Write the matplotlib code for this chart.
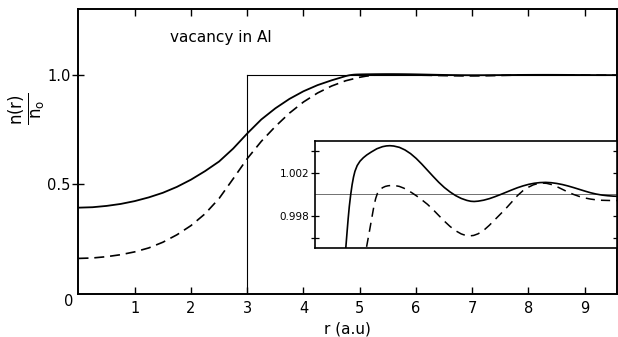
import numpy as np
import matplotlib
matplotlib.use("Agg")
import matplotlib.pyplot as plt

# 实线：n(r)/n0
r_solid = [0.0, 0.25, 0.5, 0.75, 1.0, 1.25, 1.5, 1.75, 2.0, 2.25, 2.5, 2.75,
           3.0, 3.25, 3.5, 3.75, 4.0, 4.25, 4.5, 4.65, 4.7,
           4.746, 4.77, 4.79, 4.81, 4.835, 4.86, 4.885, 4.91, 4.95, 5.0,
           5.06, 5.12, 5.2, 5.3, 5.4, 5.47, 5.53, 5.6, 5.7, 5.8, 5.9, 6.0,
           6.1, 6.2, 6.3, 6.4, 6.5, 6.6, 6.7, 6.8, 6.9, 6.97, 7.03, 7.1,
           7.2, 7.3, 7.4, 7.5, 7.6, 7.7, 7.8, 7.9, 8.0, 8.1, 8.2, 8.3, 8.4,
           8.5, 8.6, 8.7, 8.8, 8.9, 9.0, 9.1, 9.2, 9.3, 9.4, 9.5, 9.6]
n_solid = [0.394, 0.396, 0.402, 0.411, 0.424, 0.441, 0.462, 0.489, 0.522,
           0.561, 0.605, 0.664, 0.733, 0.797, 0.848, 0.891, 0.926, 0.954,
           0.976, 0.9875, 0.9915,
           0.99500, 0.99655, 0.99780, 0.99890, 1.00000, 1.00090, 1.00160,
           1.00212, 1.00265, 1.00305, 1.00337, 1.00362, 1.00389, 1.00419,
           1.00438, 1.00445, 1.00447, 1.00444, 1.00432, 1.00408, 1.00374,
           1.00330, 1.00278, 1.00222, 1.00166, 1.00112, 1.00064, 1.00024,
           0.99990, 0.99964, 0.99946, 0.99938, 0.99936, 0.99939, 0.99948,
           0.99962, 0.99980, 1.00000, 1.00021, 1.00042, 1.00062, 1.00079,
           1.00093, 1.00103, 1.00109, 1.00111, 1.00108, 1.00101, 1.00091,
           1.00078, 1.00063, 1.00047, 1.00031, 1.00016, 1.00004, 0.99995,
           0.99989, 0.99985, 0.99983]

# 虚线
r_dash = [0.0, 0.25, 0.5, 0.75, 1.0, 1.25, 1.5, 1.75, 2.0, 2.25, 2.5, 2.75,
          3.0, 3.25, 3.5, 3.75, 4.0, 4.25, 4.5, 4.75, 5.0,
          5.11, 5.16, 5.21, 5.25, 5.28, 5.31, 5.35, 5.40, 5.45, 5.5, 5.56,
          5.62, 5.7, 5.78, 5.86, 5.94, 6.02, 6.1, 6.2, 6.3, 6.4, 6.5, 6.6,
          6.7, 6.8, 6.88, 6.95, 7.02, 7.1, 7.2, 7.3, 7.4, 7.5, 7.6, 7.7,
          7.8, 7.9, 8.0, 8.08, 8.16, 8.24, 8.32, 8.4, 8.5, 8.6, 8.7, 8.8,
          8.9, 9.0, 9.1, 9.2, 9.3, 9.45, 9.6]
n_dash = [0.162, 0.164, 0.170, 0.179, 0.192, 0.210, 0.236, 0.270, 0.312,
          0.366, 0.436, 0.526, 0.618, 0.697, 0.765, 0.826, 0.877, 0.918,
          0.950, 0.974, 0.990,
          0.99500, 0.99640, 0.99785, 0.99900, 0.99965, 1.00010, 1.00040,
          1.00062, 1.00074, 1.00080, 1.00083, 1.00082, 1.00074, 1.00058,
          1.00036, 1.00010, 0.99982, 0.99951, 0.99910, 0.99861, 0.99808,
          0.99756, 0.99708, 0.99668, 0.99639, 0.99625, 0.99621, 0.99625,
          0.99640, 0.99672, 0.99718, 0.99770, 0.99822, 0.99875, 0.99932,
          0.99990, 1.00036, 1.00068, 1.00088, 1.00100, 1.00105, 1.00102,
          1.00092, 1.00072, 1.00047, 1.00022, 1.00000, 0.99982, 0.99968,
          0.99958, 0.99951, 0.99947, 0.99945, 0.99945]

# 阶梯（凝胶模型空位半径）
r_step = 3.0
n_bulk = 1.0

x_ticks = [1, 2, 3, 4, 5, 6, 7, 8, 9]
y_ticks = [0.5, 1.0]
y_ticklabels = ["0.5", "1.0"]
inset_ticks = [0.996, 0.998, 1.002, 1.004]
inset_ticklabels = ["", "0.998", "1.002", ""]

plt.rcParams['font.family'] = ['DejaVu Sans']

fig = plt.figure(figsize=(6.18, 3.37), dpi=100)
ax = fig.add_axes([0.127, 0.128, 0.871, 0.844])

ax.plot([r_step, r_step], [0, n_bulk], color='k', lw=0.8)
ax.plot([r_step, 9.57], [n_bulk, n_bulk], color='k', lw=0.8)
ax.plot(r_solid, n_solid, color='k', lw=1.3)
ax.plot(r_dash, n_dash, color='k', lw=1.2, dashes=(6, 3.5))

ax.set_xlim(0, 9.57)
ax.set_ylim(0, 1.3)
ax.set_xticks(x_ticks)
ax.set_yticks(y_ticks)
ax.set_yticklabels(y_ticklabels)
ax.tick_params(axis='x', direction='in', top=True, length=5, width=1,
               labelsize=10.5, pad=5)
ax.tick_params(axis='y', direction='inout', length=9, width=1,
               labelsize=10.5, pad=1)
for s in ax.spines.values():
    s.set_linewidth(1.4)

ax.annotate('0', xy=(0, 0), xytext=(-10, -8), textcoords='offset pixels',
            ha='center', va='center', fontsize=10.5)
ax.text(0.17, 0.9, 'vacancy in Al', transform=ax.transAxes, fontsize=11,
        ha='left', va='center')
ax.set_xlabel('r (a.u)', fontsize=11, labelpad=4)
fig.text(0.044, 0.677, r'$\frac{\mathrm{n(r)}}{\mathrm{n_o}}$', rotation=90,
         fontsize=17, ha='center', va='center')

# 插图：放大 1.0 附近的振荡
axin = fig.add_axes([0.5097, 0.2641, 0.4887, 0.3175])
axin.axhline(n_bulk, color='0.35', lw=0.6)
axin.plot(r_solid, n_solid, color='k', lw=1.2)
axin.plot(r_dash, n_dash, color='k', lw=1.1, dashes=(6, 4))
axin.set_xlim(4.2, 9.57)
axin.set_ylim(0.9951, 1.0049)
axin.set_xticks([])
axin.set_yticks(inset_ticks)
axin.set_yticklabels(inset_ticklabels)
axin.tick_params(axis='y', direction='inout', right=True, length=6, width=0.9,
                 labelsize=7.5, pad=1)
for s in axin.spines.values():
    s.set_linewidth(1.2)

fig.savefig('out.png', dpi=100)
